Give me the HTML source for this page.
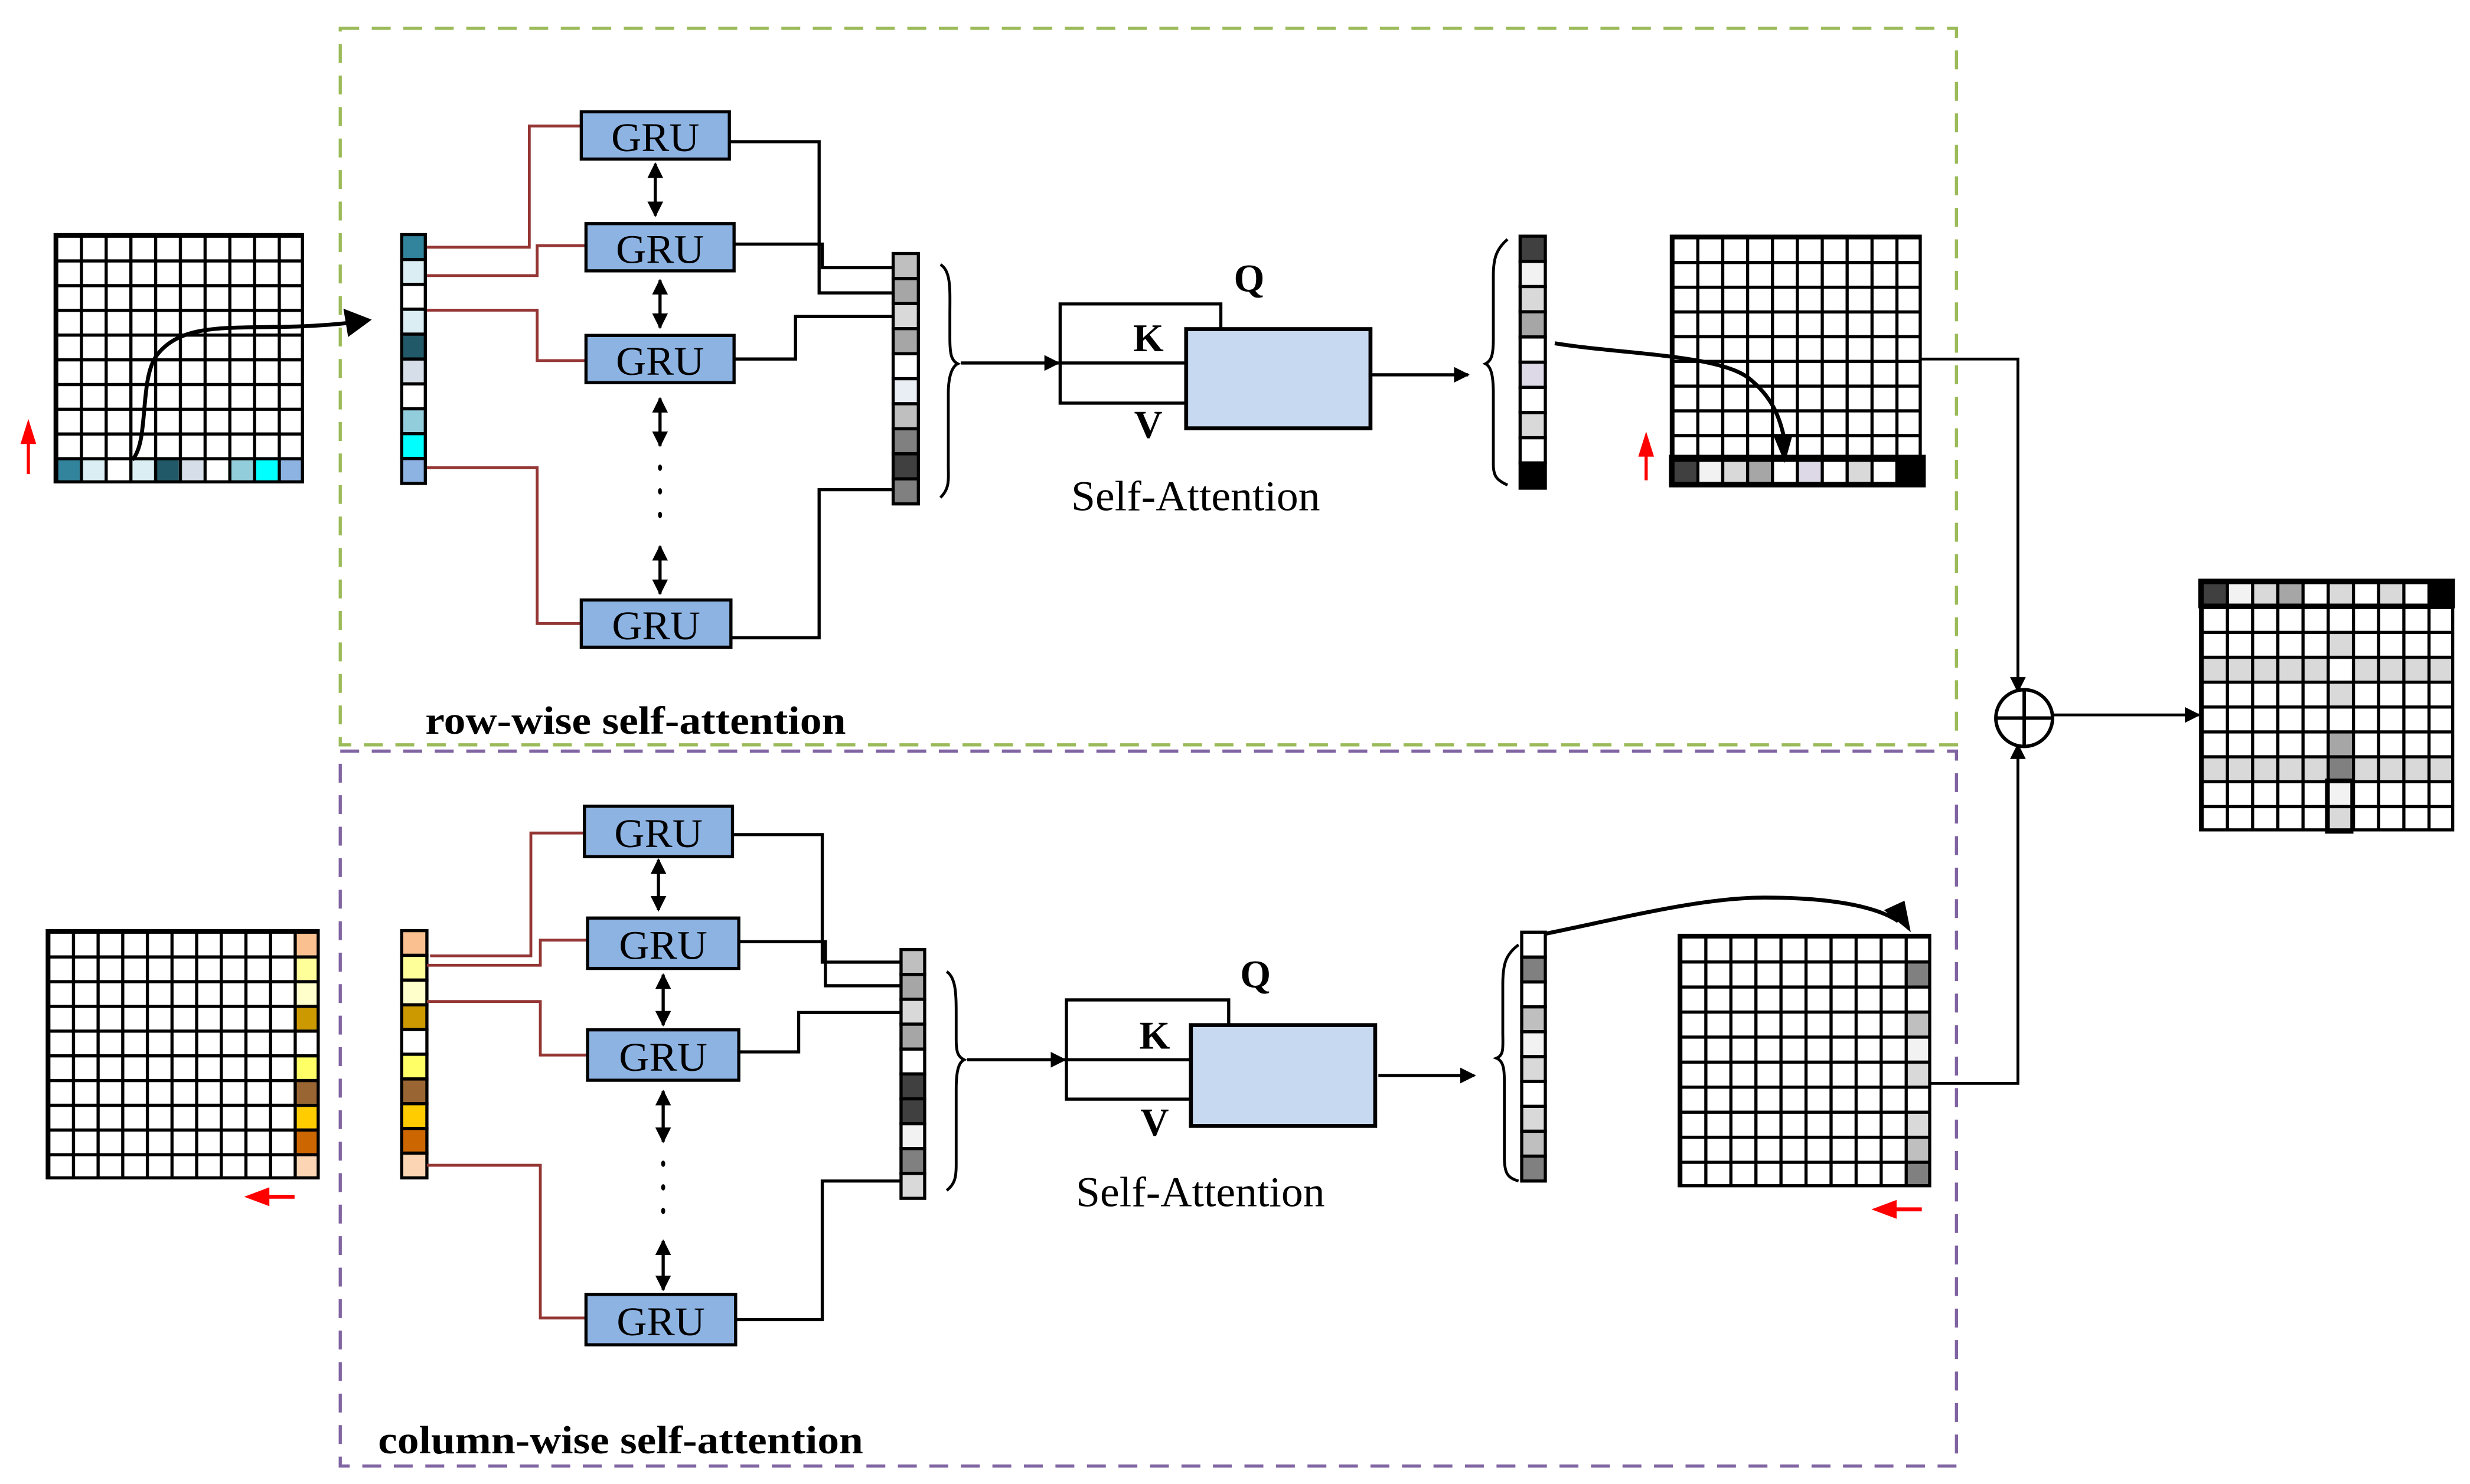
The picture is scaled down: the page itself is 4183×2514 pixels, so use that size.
<!DOCTYPE html>
<html><head><meta charset="utf-8"><style>html,body{margin:0;padding:0;background:#fff}svg{display:block}</style></head>
<body>
<svg xmlns="http://www.w3.org/2000/svg" width="4183" height="2514" viewBox="0 0 1568 942.4" preserveAspectRatio="none" font-family="'Liberation Serif', serif">
<defs>
<marker id="ahs" viewBox="0 0 10 10" refX="9" refY="5" markerWidth="10" markerHeight="10" orient="auto" markerUnits="userSpaceOnUse"><path d="M0 0L10 5L0 10z" fill="#000"/></marker>
<marker id="ahsr" viewBox="0 0 10 10" refX="9" refY="5" markerWidth="10" markerHeight="10" orient="auto-start-reverse" markerUnits="userSpaceOnUse"><path d="M0 0L10 5L0 10z" fill="#000"/></marker>
<pattern id="p1" patternUnits="userSpaceOnUse" x="35" y="149" width="15.7" height="15.7"><path d="M0 0H15.7M0 0V15.7" stroke="#000" stroke-width="4"/></pattern>
<pattern id="p2" patternUnits="userSpaceOnUse" x="1061" y="150" width="15.8" height="15.7"><path d="M0 0H15.8M0 0V15.7" stroke="#000" stroke-width="4"/></pattern>
<pattern id="p3" patternUnits="userSpaceOnUse" x="1397" y="369" width="16" height="15.8"><path d="M0 0H16M0 0V15.8" stroke="#000" stroke-width="4"/></pattern>
<pattern id="p4" patternUnits="userSpaceOnUse" x="30" y="591" width="15.64" height="15.7"><path d="M0 0H15.64M0 0V15.7" stroke="#000" stroke-width="4"/></pattern>
<pattern id="p5" patternUnits="userSpaceOnUse" x="1066" y="594" width="15.9" height="15.9"><path d="M0 0H15.9M0 0V15.9" stroke="#000" stroke-width="4"/></pattern>
</defs>

<rect x="216" y="18" width="1026" height="455" fill="none" stroke="#9bbb59" stroke-width="2" stroke-dasharray="12,8"/>
<rect x="216" y="477" width="1026" height="454" fill="none" stroke="#8064a2" stroke-width="2" stroke-dasharray="12,8"/>

<!-- ===== TOP ===== -->
<g>
<rect x="35" y="290.3" width="15.7" height="15.7" fill="#31849b"/><rect x="50.7" y="290.3" width="15.7" height="15.7" fill="#daeef3"/><rect x="82.1" y="290.3" width="15.7" height="15.7" fill="#daeef3"/><rect x="97.8" y="290.3" width="15.7" height="15.7" fill="#215968"/><rect x="113.5" y="290.3" width="15.7" height="15.7" fill="#d6dfe9"/><rect x="144.9" y="290.3" width="15.7" height="15.7" fill="#92cddc"/><rect x="160.6" y="290.3" width="15.7" height="15.7" fill="#00ffff"/><rect x="176.3" y="290.3" width="15.7" height="15.7" fill="#8db3e2"/>
<rect x="35" y="149" width="157" height="157" fill="url(#p1)" stroke="#000" stroke-width="2"/>
</g>
<line x1="18" y1="301" x2="18" y2="280" stroke="#f00" stroke-width="2"/><path d="M13 282L18 266L23 282z" fill="#f00"/>
<path d="M84 292C95 280 88 240 100 225C120 200 160 212 222 205" fill="none" stroke="#000" stroke-width="2.5"/><path d="M218 196L236 203L221 214z" fill="#000"/>

<g stroke="#000" stroke-width="2">
<rect x="255" y="149" width="15" height="15.8" fill="#31849b"/><rect x="255" y="164.8" width="15" height="15.8" fill="#daeef3"/><rect x="255" y="180.6" width="15" height="15.8" fill="#fff"/><rect x="255" y="196.4" width="15" height="15.8" fill="#daeef3"/><rect x="255" y="212.2" width="15" height="15.8" fill="#215968"/><rect x="255" y="228" width="15" height="15.8" fill="#d6dfe9"/><rect x="255" y="243.8" width="15" height="15.8" fill="#fff"/><rect x="255" y="259.6" width="15" height="15.8" fill="#92cddc"/><rect x="255" y="275.4" width="15" height="15.8" fill="#00ffff"/><rect x="255" y="291.2" width="15" height="15.8" fill="#8db3e2"/>
</g>
<g fill="none" stroke="#943634" stroke-width="1.8">
<path d="M271 157H336V80H369"/><path d="M271 175H341V156H372"/><path d="M271 197H341V229H372"/><path d="M271 297H341V396H369"/>
</g>
<g fill="#8db3e2" stroke="#000" stroke-width="2">
<rect x="369" y="71" width="94" height="30"/><rect x="372" y="142" width="94" height="30"/><rect x="372" y="213" width="94" height="30"/><rect x="369" y="381" width="95" height="30"/>
</g>
<g font-size="26" text-anchor="middle">
<text x="416" y="96" textLength="56" lengthAdjust="spacingAndGlyphs">GRU</text><text x="419" y="167" textLength="56" lengthAdjust="spacingAndGlyphs">GRU</text><text x="419" y="238" textLength="56" lengthAdjust="spacingAndGlyphs">GRU</text><text x="416.5" y="406" textLength="56" lengthAdjust="spacingAndGlyphs">GRU</text>
</g>
<g stroke="#000" stroke-width="2">
<line x1="416" y1="104" x2="416" y2="137" marker-start="url(#ahsr)" marker-end="url(#ahs)"/>
<line x1="419" y1="178" x2="419" y2="208" marker-start="url(#ahsr)" marker-end="url(#ahs)"/>
<line x1="419" y1="253" x2="419" y2="283" marker-start="url(#ahsr)" marker-end="url(#ahs)"/>
<line x1="419" y1="347" x2="419" y2="377" marker-start="url(#ahsr)" marker-end="url(#ahs)"/>
</g>
<g fill="#000"><ellipse cx="419" cy="297" rx="1.3" ry="2"/><ellipse cx="419" cy="312" rx="1.3" ry="2"/><ellipse cx="419" cy="327" rx="1.3" ry="2"/></g>
<g fill="none" stroke="#000" stroke-width="2">
<path d="M463 90H520V186H567"/><path d="M466 155H522V170H567"/><path d="M466 228H505V201H567"/><path d="M464 405H520V311H567"/>
</g>
<g stroke="#000" stroke-width="2">
<rect x="567" y="161" width="16" height="15.9" fill="#bfbfbf"/><rect x="567" y="176.9" width="16" height="15.9" fill="#a6a6a6"/><rect x="567" y="192.8" width="16" height="15.9" fill="#d9d9d9"/><rect x="567" y="208.7" width="16" height="15.9" fill="#a6a6a6"/><rect x="567" y="224.6" width="16" height="15.9" fill="#fff"/><rect x="567" y="240.5" width="16" height="15.9" fill="#e9edf4"/><rect x="567" y="256.4" width="16" height="15.9" fill="#bfbfbf"/><rect x="567" y="272.3" width="16" height="15.9" fill="#808080"/><rect x="567" y="288.2" width="16" height="15.9" fill="#404040"/><rect x="567" y="304.1" width="16" height="15.9" fill="#808080"/>
</g>
<path d="M597 168C604 172 603 185 603 200V215C603 225 604 229 608 231C604 233 602 240 602 250V295C602 305 603 310 597 316" fill="none" stroke="#000" stroke-width="1.8"/>
<line x1="610" y1="230.5" x2="672" y2="230.5" stroke="#000" stroke-width="2" marker-end="url(#ahs)"/>
<path d="M753 256H673V193H775V209" fill="none" stroke="#000" stroke-width="2"/>
<line x1="673" y1="230.5" x2="753" y2="230.5" stroke="#000" stroke-width="2"/>
<rect x="753" y="209" width="117" height="63" fill="#c6d9f0" stroke="#000" stroke-width="2.5"/>
<g font-size="25" font-weight="bold" text-anchor="middle"><text x="793" y="185">Q</text><text x="729" y="223">K</text><text x="729" y="278">V</text></g>
<text x="759" y="324" font-size="27" text-anchor="middle" textLength="158" lengthAdjust="spacingAndGlyphs">Self-Attention</text>
<line x1="870" y1="238" x2="932" y2="238" stroke="#000" stroke-width="2" marker-end="url(#ahs)"/>
<path d="M957 152C950 158 948 164 948 175V215C948 225 947 229 943 231C947 233 948 240 948 250V295C948 302 950 305 957 308" fill="none" stroke="#000" stroke-width="1.8"/>
<g stroke="#000" stroke-width="2">
<rect x="965" y="150" width="16" height="16" fill="#404040"/><rect x="965" y="166" width="16" height="16" fill="#f2f2f2"/><rect x="965" y="182" width="16" height="16" fill="#d9d9d9"/><rect x="965" y="198" width="16" height="16" fill="#a6a6a6"/><rect x="965" y="214" width="16" height="16" fill="#fff"/><rect x="965" y="230" width="16" height="16" fill="#ddd9e6"/><rect x="965" y="246" width="16" height="16" fill="#fff"/><rect x="965" y="262" width="16" height="16" fill="#d9d9d9"/><rect x="965" y="278" width="16" height="16" fill="#fff"/><rect x="965" y="294" width="16" height="16" fill="#000"/>
</g>
<g>
<rect x="1061" y="291.3" width="15.8" height="15.7" fill="#404040"/><rect x="1076.8" y="291.3" width="15.8" height="15.7" fill="#f2f2f2"/><rect x="1092.6" y="291.3" width="15.8" height="15.7" fill="#d9d9d9"/><rect x="1108.4" y="291.3" width="15.8" height="15.7" fill="#a6a6a6"/><rect x="1140" y="291.3" width="15.8" height="15.7" fill="#ddd9e6"/><rect x="1171.6" y="291.3" width="15.8" height="15.7" fill="#d9d9d9"/><rect x="1203.2" y="291.3" width="17" height="15.7" fill="#000"/>
<rect x="1061" y="150" width="158" height="157" fill="url(#p2)" stroke="#000" stroke-width="2"/>
<rect x="1061" y="290.3" width="160" height="17.7" fill="none" stroke="#000" stroke-width="3"/>
</g>
<line x1="1045" y1="305" x2="1045" y2="288" stroke="#f00" stroke-width="2"/><path d="M1040 290L1045 274L1050 290z" fill="#f00"/>
<path d="M987 218C1030 225 1090 225 1110 240C1125 252 1130 265 1133 280" fill="none" stroke="#000" stroke-width="2.5"/><path d="M1126 277L1133 294L1138 276z" fill="#000"/>
<path d="M1219 228H1281V439" fill="none" stroke="#000" stroke-width="1.8" marker-end="url(#ahs)"/>
<path d="M1225 688H1281V473" fill="none" stroke="#000" stroke-width="1.8" marker-end="url(#ahs)"/>
<circle cx="1285" cy="456" r="18" fill="#fff" stroke="#000" stroke-width="2.2"/>
<line x1="1267" y1="456" x2="1303" y2="456" stroke="#000" stroke-width="2.2"/><line x1="1285" y1="438" x2="1285" y2="474" stroke="#000" stroke-width="2.2"/>
<line x1="1303" y1="454" x2="1396" y2="454" stroke="#000" stroke-width="1.8" marker-end="url(#ahs)"/>
<g>
<g fill="#d9d9d9">
<rect x="1429" y="369" width="16" height="15.8"/><rect x="1477" y="369" width="16" height="15.8"/><rect x="1509" y="369" width="16" height="15.8"/>
<rect x="1477" y="400.6" width="16" height="15.8"/>
<rect x="1397" y="416.4" width="80" height="15.8"/><rect x="1493" y="416.4" width="64" height="15.8"/>
<rect x="1477" y="432.2" width="16" height="15.8"/>
<rect x="1397" y="479.6" width="80" height="15.8"/><rect x="1493" y="479.6" width="64" height="15.8"/>
<rect x="1477" y="511.2" width="16" height="17"/>
</g>
<rect x="1397" y="369" width="16" height="15.8" fill="#404040"/><rect x="1413" y="369" width="16" height="15.8" fill="#f2f2f2"/><rect x="1445" y="369" width="16" height="15.8" fill="#a6a6a6"/><rect x="1541" y="369" width="16" height="15.8" fill="#000"/>
<rect x="1477" y="463.8" width="16" height="15.8" fill="#a6a6a6"/><rect x="1477" y="479.6" width="16" height="15.8" fill="#808080"/><rect x="1477" y="495.4" width="16" height="15.8" fill="#f2f2f2"/>
<rect x="1397" y="369" width="160" height="158" fill="url(#p3)" stroke="#000" stroke-width="2"/>
<rect x="1397" y="369" width="160" height="15.8" fill="none" stroke="#000" stroke-width="3"/>
<rect x="1477" y="495.4" width="16" height="33" fill="none" stroke="#000" stroke-width="2"/>
</g>
<text x="270" y="466" font-size="25" font-weight="bold" textLength="267" lengthAdjust="spacingAndGlyphs">row-wise self-attention</text>

<!-- ===== BOTTOM ===== -->
<g>
<rect x="186.4" y="591" width="15.6" height="15.7" fill="#fac090"/><rect x="186.4" y="606.7" width="15.6" height="15.7" fill="#ffff99"/><rect x="186.4" y="622.4" width="15.6" height="15.7" fill="#ffffcc"/><rect x="186.4" y="638.1" width="15.6" height="15.7" fill="#cc9900"/><rect x="186.4" y="669.5" width="15.6" height="15.7" fill="#ffff66"/><rect x="186.4" y="685.2" width="15.6" height="15.7" fill="#996633"/><rect x="186.4" y="700.9" width="15.6" height="15.7" fill="#ffcc00"/><rect x="186.4" y="716.6" width="15.6" height="15.7" fill="#cc6600"/><rect x="186.4" y="732.3" width="15.6" height="15.7" fill="#fcd5b4"/>
<rect x="30" y="591" width="172" height="157" fill="url(#p4)" stroke="#000" stroke-width="2"/>
</g>
<line x1="187" y1="760" x2="170" y2="760" stroke="#f00" stroke-width="2.5"/><path d="M171 754L155 760L171 766z" fill="#f00"/>
<g stroke="#000" stroke-width="2">
<rect x="255" y="591" width="16" height="15.7" fill="#fac090"/><rect x="255" y="606.7" width="16" height="15.7" fill="#ffff99"/><rect x="255" y="622.4" width="16" height="15.7" fill="#ffffcc"/><rect x="255" y="638.1" width="16" height="15.7" fill="#cc9900"/><rect x="255" y="653.8" width="16" height="15.7" fill="#fff"/><rect x="255" y="669.5" width="16" height="15.7" fill="#ffff66"/><rect x="255" y="685.2" width="16" height="15.7" fill="#996633"/><rect x="255" y="700.9" width="16" height="15.7" fill="#ffcc00"/><rect x="255" y="716.6" width="16" height="15.7" fill="#cc6600"/><rect x="255" y="732.3" width="16" height="15.7" fill="#fcd5b4"/>
</g>
<g fill="none" stroke="#943634" stroke-width="1.8">
<path d="M273 607H337V529H371"/><path d="M271 613H343V597H373"/><path d="M271 636H343V670H373"/><path d="M271 740H343V837H372"/>
</g>
<g fill="#8db3e2" stroke="#000" stroke-width="2">
<rect x="371" y="512" width="94" height="32"/><rect x="373" y="583" width="96" height="32"/><rect x="373" y="654" width="96" height="32"/><rect x="372" y="822" width="95" height="32"/>
</g>
<g font-size="26" text-anchor="middle">
<text x="418" y="538" textLength="56" lengthAdjust="spacingAndGlyphs">GRU</text><text x="421" y="609" textLength="56" lengthAdjust="spacingAndGlyphs">GRU</text><text x="421" y="680" textLength="56" lengthAdjust="spacingAndGlyphs">GRU</text><text x="419.5" y="848" textLength="56" lengthAdjust="spacingAndGlyphs">GRU</text>
</g>
<g stroke="#000" stroke-width="2">
<line x1="418" y1="546" x2="418" y2="578" marker-start="url(#ahsr)" marker-end="url(#ahs)"/>
<line x1="421" y1="619" x2="421" y2="651" marker-start="url(#ahsr)" marker-end="url(#ahs)"/>
<line x1="421" y1="693" x2="421" y2="725" marker-start="url(#ahsr)" marker-end="url(#ahs)"/>
<line x1="421" y1="788" x2="421" y2="819" marker-start="url(#ahsr)" marker-end="url(#ahs)"/>
</g>
<g fill="#000"><ellipse cx="421" cy="739" rx="1.3" ry="2"/><ellipse cx="421" cy="754" rx="1.3" ry="2"/><ellipse cx="421" cy="769" rx="1.3" ry="2"/></g>
<g fill="none" stroke="#000" stroke-width="2">
<path d="M465 530H522V611H572"/><path d="M469 598H524V626H572"/><path d="M469 668H507V643H572"/><path d="M467 838H522V750H572"/>
</g>
<g stroke="#000" stroke-width="2">
<rect x="572" y="603" width="15" height="15.8" fill="#bfbfbf"/><rect x="572" y="618.8" width="15" height="15.8" fill="#a6a6a6"/><rect x="572" y="634.6" width="15" height="15.8" fill="#d9d9d9"/><rect x="572" y="650.4" width="15" height="15.8" fill="#a6a6a6"/><rect x="572" y="666.2" width="15" height="15.8" fill="#fff"/><rect x="572" y="682" width="15" height="15.8" fill="#404040"/><rect x="572" y="697.8" width="15" height="15.8" fill="#404040"/><rect x="572" y="713.6" width="15" height="15.8" fill="#f2f2f2"/><rect x="572" y="729.4" width="15" height="15.8" fill="#808080"/><rect x="572" y="745.2" width="15" height="15.8" fill="#d9d9d9"/>
</g>
<path d="M601 617C607 621 607 632 607 645V660C607 668 608 671 612 673C608 675 607 682 607 692V740C607 748 606 752 601 756" fill="none" stroke="#000" stroke-width="1.8"/>
<line x1="614" y1="673" x2="676" y2="673" stroke="#000" stroke-width="2" marker-end="url(#ahs)"/>
<path d="M756 698H677V635H780V651" fill="none" stroke="#000" stroke-width="2"/>
<line x1="677" y1="673" x2="756" y2="673" stroke="#000" stroke-width="2"/>
<rect x="756" y="651" width="117" height="64" fill="#c6d9f0" stroke="#000" stroke-width="2.5"/>
<g font-size="25" font-weight="bold" text-anchor="middle"><text x="797" y="627">Q</text><text x="733" y="666">K</text><text x="733" y="721">V</text></g>
<text x="762" y="766" font-size="27" text-anchor="middle" textLength="158" lengthAdjust="spacingAndGlyphs">Self-Attention</text>
<line x1="875" y1="683" x2="936" y2="683" stroke="#000" stroke-width="2" marker-end="url(#ahs)"/>
<path d="M964 600C956 606 954 612 954 625V655C954 665 955 670 950 672C955 674 955 680 955 690V735C955 745 957 748 964 750" fill="none" stroke="#000" stroke-width="1.8"/>
<g stroke="#000" stroke-width="2">
<rect x="966" y="592" width="15" height="15.8" fill="#fff"/><rect x="966" y="607.8" width="15" height="15.8" fill="#808080"/><rect x="966" y="623.6" width="15" height="15.8" fill="#fff"/><rect x="966" y="639.4" width="15" height="15.8" fill="#bfbfbf"/><rect x="966" y="655.2" width="15" height="15.8" fill="#f2f2f2"/><rect x="966" y="671" width="15" height="15.8" fill="#d9d9d9"/><rect x="966" y="686.8" width="15" height="15.8" fill="#fff"/><rect x="966" y="702.6" width="15" height="15.8" fill="#d9d9d9"/><rect x="966" y="718.4" width="15" height="15.8" fill="#bfbfbf"/><rect x="966" y="734.2" width="15" height="15.8" fill="#808080"/>
</g>
<g>
<rect x="1209.1" y="609.9" width="15.9" height="15.9" fill="#808080"/><rect x="1209.1" y="641.7" width="15.9" height="15.9" fill="#bfbfbf"/><rect x="1209.1" y="657.6" width="15.9" height="15.9" fill="#f2f2f2"/><rect x="1209.1" y="673.5" width="15.9" height="15.9" fill="#d9d9d9"/><rect x="1209.1" y="705.3" width="15.9" height="15.9" fill="#d9d9d9"/><rect x="1209.1" y="721.2" width="15.9" height="15.9" fill="#bfbfbf"/><rect x="1209.1" y="737.1" width="15.9" height="15.9" fill="#808080"/>
<rect x="1066" y="594" width="159" height="159" fill="url(#p5)" stroke="#000" stroke-width="2"/>
</g>
<path d="M981 593C1030 583 1080 570 1120 570C1160 570 1190 575 1205 585" fill="none" stroke="#000" stroke-width="2.5"/><path d="M1196 578L1213 592L1209 572z" fill="#000"/>
<line x1="1220" y1="768" x2="1203" y2="768" stroke="#f00" stroke-width="2.5"/><path d="M1204 762L1188 768L1204 774z" fill="#f00"/>
<text x="240" y="923" font-size="25" font-weight="bold" textLength="308" lengthAdjust="spacingAndGlyphs">column-wise self-attention</text>
</svg>
</body></html>
